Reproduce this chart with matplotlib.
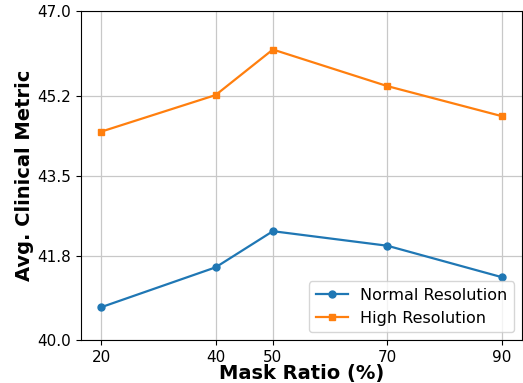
import numpy as np
import matplotlib
matplotlib.use('Agg')
import matplotlib.pyplot as plt

# Adatok
mask_ratio = [20, 40, 50, 70, 90]
normal_res = [40.70, 41.55, 42.32, 42.01, 41.34]
high_res = [44.44, 45.22, 46.19, 45.41, 44.77]
y_ticks = [40.0, 41.8, 43.5, 45.2, 47.0]

fig = plt.figure(figsize=(5.23, 3.83), dpi=100)
ax = fig.add_axes([0.155, 0.112, 0.843, 0.858])

ax.plot(mask_ratio, normal_res, marker='o', markersize=5, linewidth=1.6,
        color='#1f77b4', label='Normal Resolution')
ax.plot(mask_ratio, high_res, marker='s', markersize=5, linewidth=1.6,
        color='#ff7f0e', label='High Resolution')

ax.set_xticks(mask_ratio)
ax.set_yticks(y_ticks)
ax.set_yticklabels([f'{v:.1f}' for v in y_ticks])
ax.set_ylim(40.0, 47.0)
ax.tick_params(labelsize=11)
ax.grid(True, color='#c8c8c8', linewidth=0.9)

ax.set_xlabel('Mask Ratio (%)', fontsize=14, fontweight='bold')
ax.xaxis.set_label_coords(0.5, -0.072)
ax.set_ylabel('Avg. Clinical Metric', fontsize=14, fontweight='bold', labelpad=2.5)
ax.legend(loc='lower right', fontsize=11.5)

fig.savefig('out.png', dpi=100)
